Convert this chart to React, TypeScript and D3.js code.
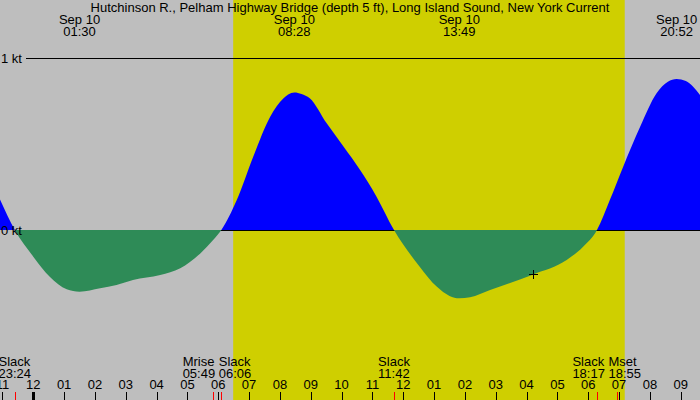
import React, { useEffect } from 'react'
import * as d3 from 'd3'

const W = 700
const H = 400
const FONT = '"Liberation Sans", Arial, sans-serif'
const FS = 13

const title = 'Hutchinson R., Pelham Highway Bridge (depth 5 ft), Long Island Sound, New York Current'

// predicted current, knots (flood > 0, ebb < 0)
const currentTimes = [
  '2024-09-09 22:55', '2024-09-09 23:24', '2024-09-10 00:00', '2024-09-10 00:32', '2024-09-10 01:05',
  '2024-09-10 01:30', '2024-09-10 02:10', '2024-09-10 02:42', '2024-09-10 03:14', '2024-09-10 04:07',
  '2024-09-10 04:46', '2024-09-10 05:25', '2024-09-10 05:50', '2024-09-10 06:06', '2024-09-10 06:36',
  '2024-09-10 07:08', '2024-09-10 07:41', '2024-09-10 08:07', '2024-09-10 08:16', '2024-09-10 08:28',
  '2024-09-10 08:42', '2024-09-10 08:58', '2024-09-10 09:31', '2024-09-10 10:04', '2024-09-10 10:36',
  '2024-09-10 11:08', '2024-09-10 11:42', '2024-09-10 12:32', '2024-09-10 13:05', '2024-09-10 13:30',
  '2024-09-10 13:49', '2024-09-10 14:10', '2024-09-10 14:49', '2024-09-10 16:13', '2024-09-10 17:18',
  '2024-09-10 17:50', '2024-09-10 18:17', '2024-09-10 18:42', '2024-09-10 19:08', '2024-09-10 19:41',
  '2024-09-10 20:13', '2024-09-10 20:35', '2024-09-10 20:52', '2024-09-10 21:10', '2024-09-10 21:38',
]
const currentKnots = [
  0.178, 0, -0.155, -0.272, -0.345,
  -0.359, -0.339, -0.32, -0.291, -0.262,
  -0.223, -0.136, -0.058, 0, 0.174,
  0.426, 0.659, 0.766, 0.788, 0.8,
  0.791, 0.766, 0.62, 0.484, 0.349,
  0.194, 0, -0.213, -0.329, -0.383,
  -0.397, -0.391, -0.349, -0.258, -0.174,
  -0.097, 0, 0.174, 0.368, 0.6,
  0.795, 0.862, 0.878, 0.866, 0.783,
]

const sunrise = '2024-09-10 06:29'
const sunset = '2024-09-10 19:11'

// max flood / max ebb, shown on top
const extremeTimes = ['2024-09-10 01:30', '2024-09-10 08:28', '2024-09-10 13:49', '2024-09-10 20:52']

// slack and moon events, shown on bottom
const eventNames = ['Slack', 'Mrise', 'Slack', 'Slack', 'Slack', 'Mset']
const eventTimes = ['2024-09-09 23:24', '2024-09-10 05:49', '2024-09-10 06:06', '2024-09-10 11:42', '2024-09-10 18:17', '2024-09-10 18:55']

const knotLines = [1, 0]

const markTime = '2024-09-10 16:13'
const markKnots = -0.258

const parse = d3.timeParse('%Y-%m-%d %H:%M')

export default function App() {
  useEffect(() => {
    document.body.style.margin = '0'
  }, [])

  const x = d3.scaleTime()
    .domain([new Date(2024, 8, 9, 22, 55, 12), new Date(2024, 8, 10, 21, 37, 30)])
    .range([0, W])
  const y = d3.scaleLinear().domain([0, 1]).range([230, 58])
  const y0 = y(0)

  const points = currentTimes.map((t, i) => ({ t: parse(t), v: currentKnots[i] }))
  const area = d3.area<{ t: Date, v: number }>()
    .x(d => x(d.t))
    .y0(y0)
    .y1(d => y(d.v))
    .curve(d3.curveMonotoneX)

  const ctx = document.createElement('canvas').getContext('2d')
  ctx.font = `${FS}px ${FONT}`
  const measure = (s: string) => ctx.measureText(s).width
  const space = measure(' ')

  // bottom labels: group the ones that would collide, lay them out side by side
  const events = eventTimes.map((t, i) => {
    const name = eventNames[i]
    const date = parse(t)
    const time = d3.timeFormat('%H:%M')(date)
    return { name, time, x: x(date), w: Math.max(measure(name), measure(time)) }
  }).sort((a, b) => a.x - b.x)

  const clusters = []
  events.forEach(e => {
    const last = clusters[clusters.length - 1]
    const prev = last && last[last.length - 1]
    if (prev && e.x - prev.x < (e.w + prev.w) / 2 + space) last.push(e)
    else clusters.push([e])
  })
  const labels = []
  clusters.forEach(c => {
    const total = d3.sum(c, d => d.w) + space * (c.length - 1)
    let left = d3.mean(c, d => d.x) - total / 2
    c.forEach(e => {
      labels.push({ ...e, left })
      left += e.w + space
    })
  })

  const hours = x.ticks(d3.timeHour.every(1))
  const fmtHour = d3.timeFormat('%I')

  const mx = x(parse(markTime))
  const my = Math.round(y(markKnots)) + 0.5

  return (
    <div style={{ position: 'absolute', left: 0, top: 0 }}>
      <svg width={W} height={H} style={{ display: 'block', fontFamily: FONT, fontSize: FS }}>
        <defs>
          <clipPath id="flood"><rect x={0} y={0} width={W} height={y0} /></clipPath>
          <clipPath id="ebb"><rect x={0} y={y0} width={W} height={H - y0} /></clipPath>
        </defs>

        <rect x={0} y={0} width={W} height={H} fill="#bebebe" />
        <rect x={x(parse(sunrise))} y={0} width={x(parse(sunset)) - x(parse(sunrise))} height={H} fill="#cfcf00" />

        {knotLines.map(k => (
          <line key={k} x1={26} x2={W} y1={Math.round(y(k)) + 0.5} y2={Math.round(y(k)) + 0.5}
            stroke="black" shapeRendering="crispEdges" />
        ))}

        <path d={area(points)} fill="#0000ff" clipPath="url(#flood)" />
        <path d={area(points)} fill="#2e8b57" clipPath="url(#ebb)" />

        {knotLines.map(k => (
          <text key={k} x={1} y={y(k) + 4.5}>{k} kt</text>
        ))}

        <g stroke="black" shapeRendering="crispEdges">
          <line x1={Math.round(mx) - 4} x2={Math.round(mx) + 5} y1={my} y2={my} />
          <line x1={Math.round(mx) + 0.5} x2={Math.round(mx) + 0.5} y1={my - 4.5} y2={my + 4.5} />
        </g>

        <text x={W / 2} y={12} textAnchor="middle">{title}</text>
        {extremeTimes.map(t => {
          const d = parse(t)
          return (
            <g key={t} textAnchor="middle">
              <text x={x(d)} y={24}>{d3.timeFormat('%b %d')(d)}</text>
              <text x={x(d)} y={36}>{d3.timeFormat('%H:%M')(d)}</text>
            </g>
          )
        })}

        {hours.map(h => {
          const hx = Math.round(x(h)) + 0.5
          const midnight = h.getHours() === 0
          return (
            <g key={+h}>
              <line x1={hx} x2={hx} y1={392} y2={H} stroke="black" strokeWidth={midnight ? 3 : 1} shapeRendering="crispEdges" />
              <text x={x(h)} y={389} textAnchor="middle">{fmtHour(h)}</text>
            </g>
          )
        })}

        {events.map((e, i) => (
          <line key={i} x1={Math.round(e.x) + 0.5} x2={Math.round(e.x) + 0.5} y1={392} y2={H}
            stroke="red" shapeRendering="crispEdges" />
        ))}

        {labels.map((l, i) => (
          <g key={i}>
            <text x={l.left} y={366}>{l.name}</text>
            <text x={l.left} y={378}>{l.time}</text>
          </g>
        ))}
      </svg>
    </div>
  )
}
